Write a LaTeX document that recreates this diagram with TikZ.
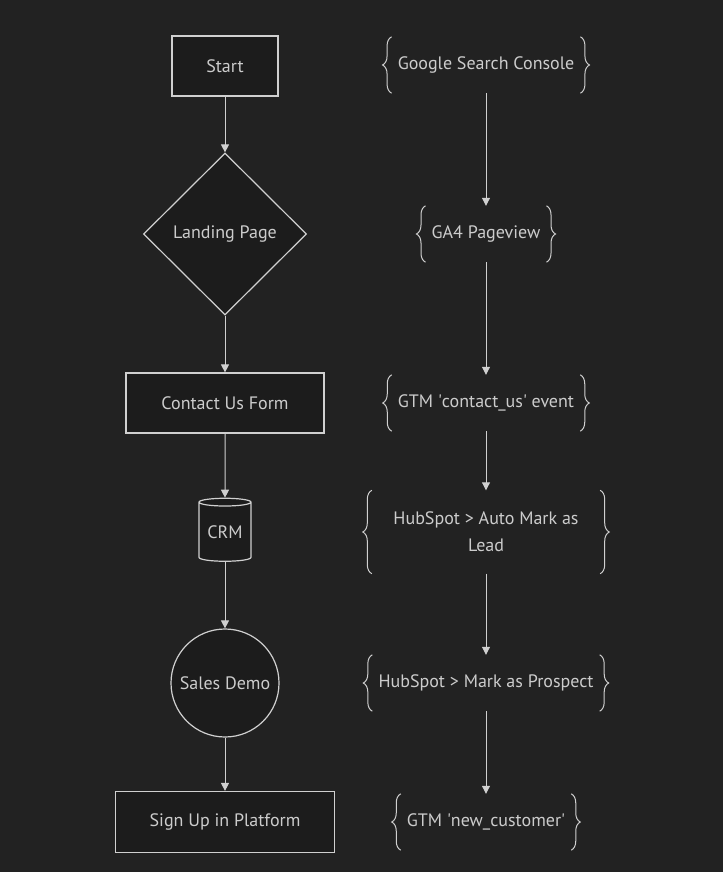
\documentclass[tikz,border=0pt]{standalone}
\usepackage{fontspec}
\setmainfont{PT Sans}
\usetikzlibrary{arrows.meta,shapes.geometric,decorations.pathreplacing}
\definecolor{flBg}{HTML}{222222}
\definecolor{flFill}{HTML}{1C1C1C}
\definecolor{flLine}{HTML}{D0D0D0}
\definecolor{flText}{HTML}{CCCCCC}
\tikzset{
  fl node/.style={draw=flLine, fill=flFill, line width=1.2pt, text=flText, font=\fontsize{18}{27}\selectfont, inner sep=0pt},
  fl box/.style={fl node, rectangle, minimum height=60pt},
  fl note/.style={text=flText, font=\fontsize{18}{27}\selectfont, align=center, minimum height=56pt, inner xsep=6pt, inner ysep=0pt},
  fl brace/.style={draw=flLine, line width=1pt, decorate, decoration={brace, amplitude=9pt}},
  fl arrow/.style={draw=flLine, line width=1pt, -{Triangle[length=8pt, width=8pt]}},
}

\begin{document}
\begin{tikzpicture}[x=1pt, y=-1pt]
  \fill[flBg] (0,0) rectangle (723,872);
  % Left column: the funnel steps
  \node[fl box, minimum width=106pt] (start) at (225,66) {Start};
  \node[fl node, diamond, minimum width=163pt, minimum height=162pt] (land) at (225,234) {Landing Page};
  \node[fl box, minimum width=198pt] (form) at (225,403) {Contact Us Form};
  \node[fl node, cylinder, shape border rotate=90, shape aspect=0.22, minimum width=52pt, minimum height=63pt] (crm) at (225,532) {CRM};
  \node[fl node, circle, minimum size=108pt] (demo) at (225,683) {Sales Demo};
  \node[fl box, minimum width=219pt, minimum height=61pt] (signup) at (225,822) {Sign Up in Platform};
  \draw[fl arrow] (start) -- (land);
  \draw[fl arrow] (land) -- (form);
  \draw[fl arrow] (form) -- (crm);
  \draw[fl arrow] (crm) -- (demo);
  \draw[fl arrow] (demo) -- (signup);
  % Right column: the tracking notes
  \node[fl note] (gsc) at (486,65) {Google Search Console};
  \node[fl note] (ga4) at (486,234) {GA4 Pageview};
  \node[fl note] (gtmc) at (486,403) {GTM \textquotesingle contact\_us\textquotesingle{} event};
  \node[fl note, minimum width=228pt, minimum height=83pt] (lead) at (486,532) {HubSpot > Auto Mark as\\Lead};
  \node[fl note] (prospect) at (486,683) {HubSpot > Mark as Prospect};
  \node[fl note] (gtmn) at (486,822) {GTM \textquotesingle new\_customer\textquotesingle};
  \foreach \n in {gsc,ga4,gtmc,lead,prospect,gtmn} {
    \draw[fl brace] (\n.south west) -- (\n.north west);
    \draw[fl brace] (\n.north east) -- (\n.south east);
  }
  \draw[fl arrow] (gsc) -- (ga4);
  \draw[fl arrow] (ga4) -- (gtmc);
  \draw[fl arrow] (gtmc) -- (lead);
  \draw[fl arrow] (lead) -- (prospect);
  \draw[fl arrow] (prospect) -- (gtmn);
\end{tikzpicture}
\end{document}
